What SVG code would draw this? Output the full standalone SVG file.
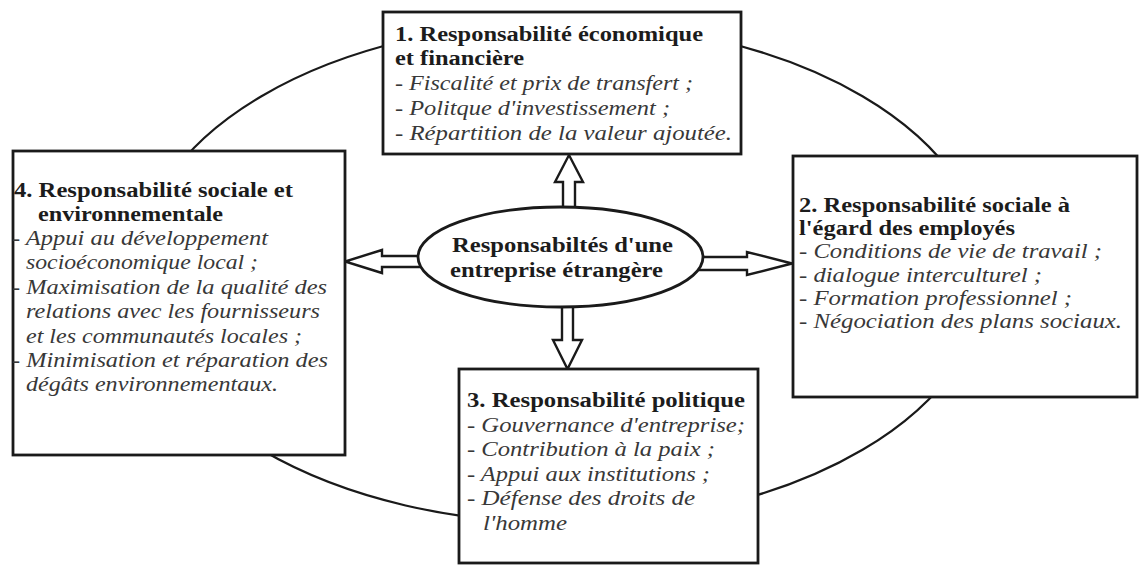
<svg xmlns="http://www.w3.org/2000/svg" width="1139" height="566" viewBox="0 0 1139 566">
<style>
.box{fill:#fff;stroke:#1a1a1a;stroke-width:2.8}
.ring{fill:none;stroke:#1a1a1a;stroke-width:2.2}
.arr{fill:#fff;stroke:#1a1a1a;stroke-width:2.4;stroke-linejoin:miter}
.b{font-family:"Liberation Serif","Times New Roman",serif;font-weight:bold;font-size:20px;fill:#1c1c1c}
.i{font-family:"Liberation Serif","Times New Roman",serif;font-style:italic;font-size:20px;fill:#383838}
</style>
<rect width="1139" height="566" fill="#fff"/>
<g id="connectors">
<ellipse class="ring" cx="562" cy="273" rx="425" ry="250"/>
<polygon class="arr" points="563,212 563,182 555,182 569,155 583,182 575,182 575,212"/>
<polygon class="arr" points="562,302 562,340 553,340 567.5,369 582,340 573,340 573,302"/>
<polygon class="arr" points="424,256 382,256 382,250 345,261.5 382,273 382,267 424,267"/>
<polygon class="arr" points="697,257 747,257 747,252 792,263.5 747,275 747,270 697,270"/>
</g>
<g id="center">
<ellipse class="box" cx="560.5" cy="257" rx="142.5" ry="50"/>
<text class="b" x="452" y="252" textLength="221" lengthAdjust="spacingAndGlyphs">Responsabiltés d'une</text>
<text class="b" x="450" y="277" textLength="213" lengthAdjust="spacingAndGlyphs">entreprise étrangère</text>
</g>
<g id="node1">
<rect class="box" x="383" y="12" width="358" height="142"/>
<text class="b" x="395" y="41" textLength="308" lengthAdjust="spacingAndGlyphs">1. Responsabilité économique</text>
<text class="b" x="395" y="65" textLength="129" lengthAdjust="spacingAndGlyphs">et financière</text>
<text class="i" x="395" y="90" textLength="298" lengthAdjust="spacingAndGlyphs">- Fiscalité et prix de transfert ;</text>
<text class="i" x="395" y="115" textLength="275" lengthAdjust="spacingAndGlyphs">- Politque d'investissement ;</text>
<text class="i" x="395" y="140" textLength="337" lengthAdjust="spacingAndGlyphs">- Répartition de la valeur ajoutée.</text>
</g>
<g id="node2">
<rect class="box" x="793" y="156" width="344" height="241"/>
<text class="b" x="799" y="212" textLength="271" lengthAdjust="spacingAndGlyphs">2. Responsabilité sociale à</text>
<text class="b" x="799" y="235" textLength="216" lengthAdjust="spacingAndGlyphs">l'égard des employés</text>
<text class="i" x="799" y="258" textLength="303" lengthAdjust="spacingAndGlyphs">- Conditions de vie de travail ;</text>
<text class="i" x="799" y="282" textLength="243" lengthAdjust="spacingAndGlyphs">- dialogue interculturel ;</text>
<text class="i" x="799" y="305" textLength="273" lengthAdjust="spacingAndGlyphs">- Formation professionnel ;</text>
<text class="i" x="799" y="328" textLength="323" lengthAdjust="spacingAndGlyphs">- Négociation des plans sociaux.</text>
</g>
<g id="node3">
<rect class="box" x="459" y="369" width="299" height="194"/>
<text class="b" x="467" y="407" textLength="278" lengthAdjust="spacingAndGlyphs">3. Responsabilité politique</text>
<text class="i" x="467" y="432" textLength="278" lengthAdjust="spacingAndGlyphs">- Gouvernance d'entreprise;</text>
<text class="i" x="467" y="456" textLength="248" lengthAdjust="spacingAndGlyphs">- Contribution à la paix ;</text>
<text class="i" x="467" y="481" textLength="243" lengthAdjust="spacingAndGlyphs">- Appui aux institutions ;</text>
<text class="i" x="467" y="505" textLength="228" lengthAdjust="spacingAndGlyphs">- Défense des droits de</text>
<text class="i" x="483" y="530" textLength="84" lengthAdjust="spacingAndGlyphs">l'homme</text>
</g>
<g id="node4">
<rect class="box" x="13" y="151" width="332" height="304"/>
<text class="b" x="14" y="197" textLength="279" lengthAdjust="spacingAndGlyphs">4. Responsabilité sociale et</text>
<text class="b" x="38" y="221" textLength="185" lengthAdjust="spacingAndGlyphs">environnementale</text>
<text class="i" x="12" y="245" textLength="256" lengthAdjust="spacingAndGlyphs">- Appui au développement</text>
<text class="i" x="26" y="269" textLength="232" lengthAdjust="spacingAndGlyphs">socioéconomique local ;</text>
<text class="i" x="12" y="294" textLength="315" lengthAdjust="spacingAndGlyphs">- Maximisation de la qualité des</text>
<text class="i" x="26" y="318" textLength="294" lengthAdjust="spacingAndGlyphs">relations avec les fournisseurs</text>
<text class="i" x="26" y="343" textLength="276" lengthAdjust="spacingAndGlyphs">et les communautés locales ;</text>
<text class="i" x="12" y="367" textLength="316" lengthAdjust="spacingAndGlyphs">- Minimisation et réparation des</text>
<text class="i" x="26" y="391" textLength="252" lengthAdjust="spacingAndGlyphs">dégâts environnementaux.</text>
</g>
</svg>
